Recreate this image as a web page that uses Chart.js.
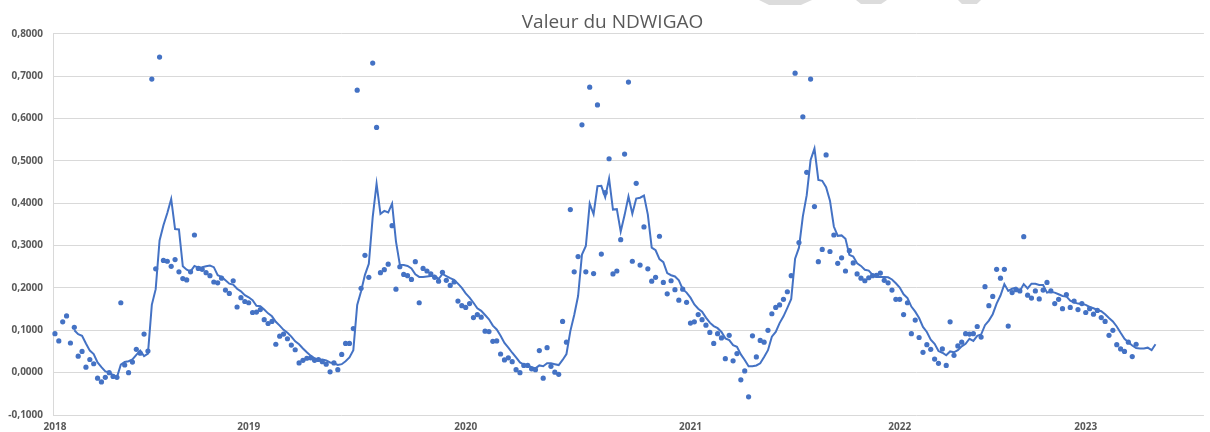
<!DOCTYPE html>
<html>
<head>
<meta charset="utf-8">
<script src="https://cdn.jsdelivr.net/npm/chart.js@4.4.1/dist/chart.umd.min.js"></script>
<style>
  html, body { margin: 0; padding: 0; background: #ffffff; }
  #wrap { position: relative; width: 1210px; height: 432px; overflow: hidden; }
  #chart { position: absolute; left: 0; top: 0; }
  .deco { position: absolute; top: 0; background: #dcdcdc; }
</style>
</head>
<body>
<div id="wrap">
  <canvas id="chart" width="1210" height="432"></canvas>
  <div class="deco" style="left:759px;width:53px;height:5px;clip-path:polygon(0 0,100% 0,79% 100%,19% 100%);"></div>
  <div class="deco" style="left:856px;width:31px;height:4px;clip-path:polygon(0 0,100% 0,81% 100%,16% 100%);"></div>
  <div class="deco" style="left:958px;width:23px;height:4px;clip-path:polygon(0 0,100% 0,82% 100%,17% 100%);"></div>
</div>
<script>
// ---- Data ----
const chartTitle = 'Valeur du NDWIGAO';
const yearLabels = ['2018', '2019', '2020', '2021', '2022', '2023'];
const yearStartIndex = [0, 50, 106, 164, 218, 266];
const categoryCount = 297;

// NDWIGAO observations (one per category, in order)
const ndwiValues = [
  0.092,0.075,0.120,0.134,0.070,0.107,0.039,0.050,0.013,0.031,
  0.021,-0.013,-0.022,-0.011,0.000,-0.009,-0.011,0.165,0.018,0.000,
  0.025,0.055,0.046,0.091,0.051,0.693,0.245,0.745,0.265,0.263,
  0.251,0.267,0.238,0.222,0.219,0.238,0.325,0.246,0.244,0.236,
  0.229,0.214,0.212,0.223,0.195,0.187,0.217,0.155,0.177,0.168,
  0.165,0.142,0.143,0.149,0.125,0.116,0.121,0.067,0.086,0.091,
  0.080,0.065,0.054,0.023,0.029,0.034,0.035,0.029,0.031,0.026,
  0.020,0.002,0.023,0.007,0.043,0.069,0.069,0.104,0.667,0.199,
  0.277,0.225,0.731,0.579,0.236,0.243,0.256,0.347,0.197,0.250,
  0.232,0.229,0.220,0.262,0.165,0.246,0.240,0.233,0.225,0.216,
  0.237,0.218,0.206,0.214,0.169,0.158,0.154,0.163,0.130,0.137,
  0.131,0.098,0.097,0.074,0.075,0.044,0.030,0.035,0.026,0.007,
  0.000,0.017,0.017,0.009,0.007,0.052,-0.013,0.059,0.015,0.001,
  -0.004,0.121,0.072,0.385,0.238,0.274,0.585,0.238,0.674,0.234,
  0.632,0.280,0.425,0.505,0.233,0.240,0.314,0.516,0.686,0.263,
  0.447,0.254,0.344,0.245,0.216,0.225,0.322,0.213,0.186,0.217,
  0.196,0.171,0.197,0.166,0.117,0.120,0.137,0.125,0.112,0.095,
  0.069,0.092,0.082,0.033,0.088,0.028,0.045,-0.017,0.004,-0.057,
  0.087,0.037,0.076,0.072,0.100,0.139,0.154,0.160,0.173,0.191,
  0.229,0.707,0.307,0.604,0.473,0.693,0.392,0.262,0.291,0.514,
  0.286,0.325,0.258,0.271,0.240,0.288,0.259,0.233,0.223,0.217,
  0.224,0.229,0.230,0.235,0.218,0.212,0.195,0.173,0.173,0.137,
  0.165,0.092,0.124,0.083,0.048,0.066,0.055,0.032,0.022,0.056,
  0.017,0.120,0.041,0.063,0.072,0.092,0.091,0.092,0.109,0.084,
  0.203,0.158,0.180,0.244,0.223,0.244,0.110,0.189,0.196,0.193,
  0.321,0.183,0.176,0.193,0.174,0.195,0.213,0.193,0.163,0.173,
  0.151,0.184,0.154,0.169,0.149,0.163,0.142,0.151,0.138,0.147,
  0.130,0.121,0.088,0.100,0.066,0.056,0.050,0.072,0.038,0.067
];

// Smoothed curve (moving-average trend line)
const movingAverage = [
  null,null,null,null,null,0.100,0.091,0.087,0.069,0.052,
  0.044,0.024,0.013,0.003,0.001,-0.006,-0.011,0.019,0.025,0.027,
  0.031,0.042,0.052,0.039,0.045,0.160,0.197,0.312,0.348,0.377,
  0.410,0.339,0.338,0.251,0.243,0.239,0.252,0.248,0.249,0.251,
  0.253,0.249,0.230,0.226,0.218,0.210,0.208,0.198,0.192,0.183,
  0.178,0.171,0.158,0.157,0.149,0.140,0.133,0.120,0.111,0.101,
  0.094,0.085,0.074,0.067,0.057,0.048,0.040,0.034,0.030,0.031,
  0.029,0.024,0.022,0.018,0.020,0.027,0.036,0.053,0.160,0.192,
  0.231,0.257,0.367,0.446,0.375,0.382,0.378,0.399,0.310,0.255,
  0.254,0.252,0.246,0.232,0.226,0.226,0.227,0.228,0.229,0.221,
  0.233,0.228,0.223,0.219,0.210,0.200,0.187,0.177,0.165,0.152,
  0.146,0.136,0.126,0.111,0.102,0.087,0.070,0.059,0.047,0.036,
  0.024,0.019,0.017,0.013,0.010,0.017,0.015,0.022,0.022,0.020,
  0.018,0.030,0.044,0.098,0.136,0.181,0.279,0.299,0.399,0.374,
  0.440,0.441,0.414,0.458,0.385,0.386,0.333,0.372,0.416,0.375,
  0.411,0.413,0.418,0.373,0.295,0.289,0.268,0.261,0.235,0.230,
  0.227,0.218,0.197,0.189,0.177,0.161,0.151,0.144,0.130,0.118,
  0.110,0.105,0.096,0.081,0.077,0.065,0.061,0.043,0.030,0.015,
  0.015,0.017,0.022,0.037,0.053,0.085,0.096,0.117,0.133,0.153,
  0.174,0.269,0.295,0.369,0.419,0.502,0.529,0.455,0.453,0.438,
  0.406,0.345,0.323,0.324,0.316,0.278,0.274,0.258,0.252,0.243,
  0.241,0.231,0.226,0.226,0.226,0.225,0.220,0.211,0.201,0.185,
  0.176,0.156,0.144,0.129,0.108,0.096,0.078,0.068,0.051,0.047,
  0.041,0.050,0.048,0.053,0.062,0.068,0.080,0.075,0.087,0.090,
  0.112,0.123,0.138,0.163,0.182,0.209,0.193,0.198,0.201,0.193,
  0.209,0.199,0.210,0.210,0.207,0.207,0.189,0.191,0.189,0.185,
  0.181,0.180,0.170,0.166,0.163,0.162,0.160,0.155,0.152,0.148,
  0.145,0.138,0.129,0.121,0.109,0.094,0.080,0.072,0.064,0.058,
  0.057,0.057,0.059,0.053,0.067
];

// ---- Build the category table from the arrays above ----
const categories = [];
for (let i = 0; i < categoryCount; i++) {
  const k = yearStartIndex.indexOf(i);
  categories.push(k >= 0 ? yearLabels[k] : '');
}

const BLUE = '#4472C4';
const TEXT = '#595959';
const GRID = '#d9d9d9';
const tickFont = { family: 'Open Sans', size: 10, weight: 'bold' };

new Chart(document.getElementById('chart'), {
  type: 'line',
  data: {
    labels: categories,
    datasets: [
      {
        label: 'Moyenne mobile',
        data: movingAverage,
        borderColor: BLUE,
        backgroundColor: BLUE,
        borderWidth: 2,
        pointRadius: 0,
        tension: 0,
        fill: false
      },
      {
        label: 'NDWIGAO',
        data: ndwiValues,
        showLine: false,
        pointRadius: 2.6,
        pointBackgroundColor: BLUE,
        pointBorderColor: BLUE,
        pointBorderWidth: 0
      }
    ]
  },
  options: {
    responsive: false,
    animation: false,
    devicePixelRatio: 1,
    layout: { padding: { left: 20, right: 5, top: 0, bottom: 0 } },
    plugins: {
      legend: { display: false },
      tooltip: { enabled: false },
      title: {
        display: true,
        text: chartTitle,
        color: TEXT,
        font: { family: 'Open Sans', size: 19, weight: 'normal', lineHeight: 1.2 },
        padding: { top: 11, bottom: 0 }
      }
    },
    scales: {
      x: {
        type: 'category',
        offset: true,
        grid: { display: false, drawTicks: false },
        border: { display: false },
        ticks: {
          autoSkip: false,
          maxRotation: 0,
          minRotation: 0,
          padding: 8,
          color: TEXT,
          font: { family: 'Open Sans', size: 10, weight: 'bold', lineHeight: 0.8 }
        },
        afterFit: function (scale) { scale.height = 17; }
      },
      y: {
        min: -0.1,
        max: 0.8,
        grid: { color: GRID, lineWidth: 1, drawTicks: false },
        border: { display: true, color: GRID },
        ticks: {
          stepSize: 0.1,
          padding: 10,
          color: TEXT,
          font: tickFont,
          callback: function (v) {
            const n = Math.abs(v) < 1e-9 ? 0 : v;
            return n.toFixed(4).replace('.', ',');
          }
        },
        afterFit: function (scale) {
          scale.width = 33;
          // let the tick labels extend into the left page margin
          scale._computeLabelArea = function () { return undefined; };
        }
      }
    }
  }
});
</script>
</body>
</html>
